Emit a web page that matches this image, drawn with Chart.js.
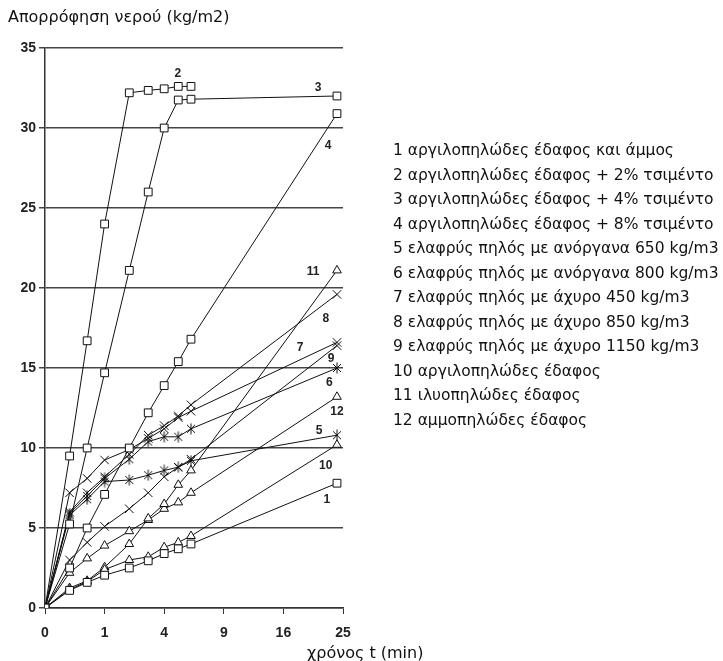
<!DOCTYPE html>
<html>
<head>
<meta charset="utf-8">
<script src="https://cdn.jsdelivr.net/npm/chart.js@4"></script>
<style>
  html, body { margin: 0; padding: 0; background: #fff; }
  #wrap { position: relative; width: 723px; height: 661px; overflow: hidden; }
  #chart { position: absolute; left: 0; top: 0; }
  .txt { position: absolute; font-family: "DejaVu Sans", sans-serif; color: #111; white-space: nowrap; }
  #ytitle { left: 8px; top: 7px; font-size: 16px; }
  #xtitle { left: 307px; top: 643px; font-size: 16px; }
  #legend { left: 393px; top: 138px; font-size: 15.5px; line-height: 24.5px; }
</style>
</head>
<body>
<div id="wrap">
  <canvas id="chart" width="723" height="661"></canvas>
  <div class="txt" id="ytitle">Απορρόφηση νερού (kg/m2)</div>
  <div class="txt" id="xtitle">χρόνος t (min)</div>
  <div class="txt" id="legend"></div>
</div>
<script>
// χρόνος (t), ο άξονας είναι σε κλίμακα √t
const times = [0, 0.17, 0.5, 1, 2, 3, 4, 5, 6, 24];
const xTickLabels = ['0', '1', '4', '9', '16', '25'];

const s1 = [0, 1.1, 1.6, 2.05, 2.5, 2.95, 3.4, 3.7, 4.0, 7.8];
const s2 = [0, 9.5, 16.7, 24.0, 32.2, 32.35, 32.45, 32.6, 32.6, null];
const s3 = [0, 5.25, 10.0, 14.7, 21.1, 26.0, 30.0, 31.75, 31.8, 32.0];
const s4 = [0, 2.5, 5.0, 7.1, 10.0, 12.2, 13.9, 15.4, 16.8, 30.9];
const s5 = [0, 5.8, 6.8, 7.9, 8.0, 8.3, 8.6, 8.8, 9.2, 10.8];
const s6 = [0, 5.9, 7.0, 8.1, 9.3, 10.4, 10.7, 10.7, 11.2, 15.0];
const s7 = [0, 7.2, 8.1, 9.25, 9.9, 10.6, 11.2, 11.9, 12.3, 16.6];
const s8 = [0, 6.0, 7.2, 8.2, 9.6, 10.8, 11.4, 12.0, 12.7, 19.6];
const s9 = [0, 3.0, 4.1, 5.1, 6.2, 7.2, 8.2, 8.8, 9.3, 16.4];
const s10 = [0, 1.15, 1.65, 2.4, 3.0, 3.2, 3.8, 4.1, 4.5, 10.2];
const s11 = [0, 1.25, 1.7, 2.55, 4.0, 5.6, 6.5, 7.7, 8.6, 21.1];
const s12 = [0, 2.2, 3.1, 3.9, 4.8, 5.5, 6.2, 6.6, 7.2, 13.2];

const legendLabels = [
  '1 αργιλοπηλώδες έδαφος και άμμος',
  '2 αργιλοπηλώδες έδαφος + 2% τσιμέντο',
  '3 αργιλοπηλώδες έδαφος + 4% τσιμέντο',
  '4 αργιλοπηλώδες έδαφος + 8% τσιμέντο',
  '5 ελαφρύς πηλός με ανόργανα 650 kg/m3',
  '6 ελαφρύς πηλός με ανόργανα 800 kg/m3',
  '7 ελαφρύς πηλός με άχυρο 450 kg/m3',
  '8 ελαφρύς πηλός με άχυρο 850 kg/m3',
  '9 ελαφρύς πηλός με άχυρο 1150 kg/m3',
  '10 αργιλοπηλώδες έδαφος',
  '11 ιλυοπηλώδες έδαφος',
  '12 αμμοπηλώδες έδαφος'
];

// ετικέτες καμπυλών: [κείμενο, √t, τιμή]
const curveLabels = [
  ['2', 2.23, 33.4], ['3', 4.58, 32.5], ['4', 4.75, 28.9], ['11', 4.5, 21.0],
  ['8', 4.71, 18.1], ['7', 4.28, 16.25], ['9', 4.8, 15.6], ['6', 4.77, 14.1],
  ['12', 4.9, 12.25], ['5', 4.6, 11.1], ['10', 4.71, 8.9], ['1', 4.73, 6.75]
];

document.getElementById('legend').innerHTML = legendLabels.join('<br>');

// σύμβολο Ж (x με κάθετη γραμμή)
const zhe = document.createElement('canvas');
zhe.width = 12; zhe.height = 12;
(function () {
  const c = zhe.getContext('2d');
  c.strokeStyle = '#111';
  c.lineWidth = 1;
  c.beginPath();
  c.moveTo(2, 2); c.lineTo(10, 10);
  c.moveTo(10, 2); c.lineTo(2, 10);
  c.moveTo(6, 0.5); c.lineTo(6, 11.5);
  c.stroke();
})();

function series(values, style) {
  const pts = [];
  values.forEach((v, i) => { if (v !== null) pts.push({ x: Math.sqrt(times[i]), y: v }); });
  const ds = {
    data: pts,
    borderColor: '#111',
    borderWidth: 1,
    pointBorderWidth: 1,
    pointBorderColor: '#111',
    pointBackgroundColor: '#fff',
    pointStyle: style,
    pointRadius: 5.5,
    tension: 0
  };
  if (style === 'triangle') ds.pointRadius = 5;
  if (style === 'crossRot') ds.pointRadius = 6;
  return ds;
}

const labelPlugin = {
  id: 'curveLabels',
  afterDatasetsDraw(chart) {
    const ctx = chart.ctx;
    const xs = chart.scales.x, ys = chart.scales.y;
    ctx.save();
    ctx.font = 'bold 12px "Liberation Sans", Arial, sans-serif';
    ctx.fillStyle = '#222';
    ctx.textAlign = 'center';
    ctx.textBaseline = 'middle';
    curveLabels.forEach(([t, x, y]) => {
      ctx.fillText(t, xs.getPixelForValue(x), ys.getPixelForValue(y));
    });
    ctx.restore();
  }
};

new Chart(document.getElementById('chart'), {
  type: 'line',
  data: {
    datasets: [
      series(s1, 'rect'), series(s2, 'rect'), series(s3, 'rect'), series(s4, 'rect'),
      series(s5, zhe), series(s6, zhe), series(s7, 'crossRot'), series(s8, 'crossRot'),
      series(s9, 'crossRot'), series(s10, 'triangle'), series(s11, 'triangle'), series(s12, 'triangle')
    ]
  },
  options: {
    responsive: false,
    animation: false,
    layout: { padding: { left: 0, top: 48, right: 380, bottom: 0 } },
    plugins: { legend: { display: false }, tooltip: { enabled: false } },
    scales: {
      x: {
        type: 'linear', min: 0, max: 5,
        afterFit: (scale) => { scale.height = 53; },
        grid: { drawOnChartArea: false, drawTicks: true, tickLength: 6, color: '#333' },
        border: { display: true, color: '#333', width: 1.5 },
        ticks: {
          stepSize: 1, padding: 11, color: '#222',
          font: { family: '"Liberation Sans", Arial, sans-serif', size: 14, weight: 'bold' },
          callback: (v) => xTickLabels[v]
        }
      },
      y: {
        min: 0, max: 35,
        afterFit: (scale) => { scale.width = 45; },
        grid: { color: '#444', lineWidth: 1.5, tickLength: 6 },
        border: { display: true, color: '#333', width: 1.5 },
        ticks: {
          stepSize: 5, padding: 3, color: '#222',
          font: { family: '"Liberation Sans", Arial, sans-serif', size: 14, weight: 'bold' }
        }
      }
    }
  },
  plugins: [labelPlugin]
});
</script>
</body>
</html>
